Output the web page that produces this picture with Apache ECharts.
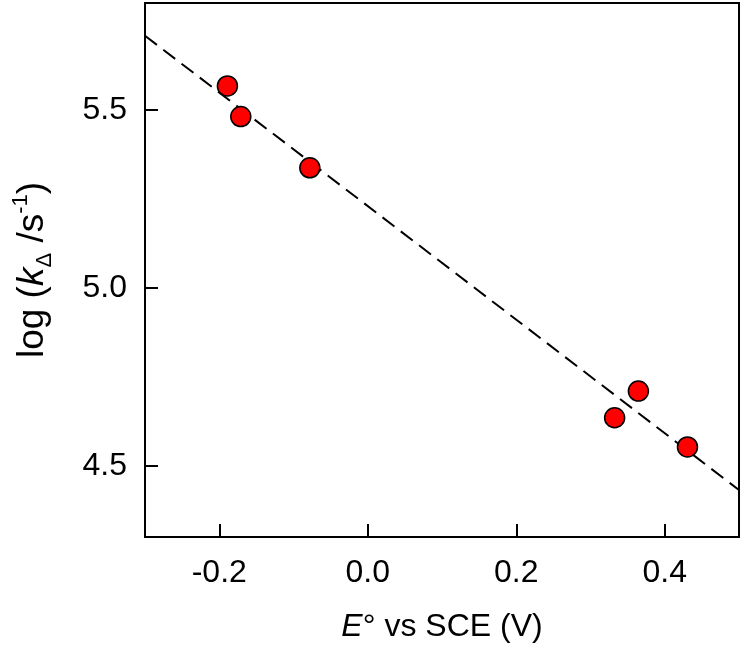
<!DOCTYPE html>
<html>
<head>
<meta charset="utf-8">
<script src="https://cdn.jsdelivr.net/npm/echarts@6/dist/echarts.min.js"></script>
<style>
html,body{margin:0;padding:0;background:#fff;}
#chart{width:746px;height:651px;}
</style>
</head>
<body>
<div id="chart"></div>
<script>
// Data
var potentialV = [-0.189, -0.171, -0.078, 0.3325, 0.3645, 0.4306];
var logK = [5.567, 5.481, 5.337, 4.635, 4.710, 4.553];
var fitX = [-0.3, 0.5];
var fitY = [5.708, 4.432];
var xTickValues = [-0.2, 0.0, 0.2, 0.4];
var yTickValues = [4.5, 5.0, 5.5];

var points = potentialV.map(function (x, i) { return [x, logK[i]]; });
var fitLine = fitX.map(function (x, i) { return [x, fitY[i]]; });

var font = '"Liberation Sans", Arial, sans-serif';
var chart = echarts.init(document.getElementById('chart'), null, {renderer: 'canvas'});
chart.setOption({
  animation: false,
  backgroundColor: '#ffffff',
  grid: {
    left: 145, right: 7, top: 3, bottom: 114,
    show: true, borderColor: '#000', borderWidth: 2, backgroundColor: 'transparent'
  },
  xAxis: {
    type: 'value', min: -0.3, max: 0.5,
    name: '{i|E}{n|° vs SCE (V)}',
    nameLocation: 'middle', nameGap: 74,
    nameTextStyle: {
      rich: {
        i: {fontFamily: font, fontSize: 32, fontStyle: 'italic', color: '#000'},
        n: {fontFamily: font, fontSize: 32, color: '#000'}
      }
    },
    splitLine: {show: false},
    axisLine: {show: true, onZero: false, lineStyle: {color: '#000', width: 2}},
    axisTick: {show: true, inside: true, length: 13, customValues: xTickValues, lineStyle: {color: '#000', width: 2}},
    axisLabel: {
      customValues: xTickValues, margin: 20,
      fontFamily: font, fontSize: 32, color: '#000',
      formatter: function (v) { return v.toFixed(1); }
    }
  },
  yAxis: {
    type: 'value', min: 4.3, max: 5.8,
    name: '{n|log (}{i|k}{sub|Δ}{n| /s}{sup|-1}{n|)}',
    nameLocation: 'middle', nameGap: 89,
    nameTextStyle: {
      rich: {
        n: {fontFamily: font, fontSize: 37, color: '#000', lineHeight: 46},
        i: {fontFamily: font, fontSize: 37, fontStyle: 'italic', color: '#000', lineHeight: 46},
        sub: {fontFamily: font, fontSize: 22, color: '#000', lineHeight: 22, verticalAlign: 'bottom'},
        sup: {fontFamily: font, fontSize: 22, color: '#000', lineHeight: 22, verticalAlign: 'top'}
      }
    },
    splitLine: {show: false},
    axisLine: {show: true, onZero: false, lineStyle: {color: '#000', width: 2}},
    axisTick: {show: true, inside: true, length: 13, customValues: yTickValues, lineStyle: {color: '#000', width: 2}},
    axisLabel: {
      customValues: yTickValues, margin: 18,
      fontFamily: font, fontSize: 32, color: '#000',
      formatter: function (v) { return v.toFixed(1); }
    }
  },
  series: [
    {
      type: 'line', data: fitLine, symbol: 'none', z: 1,
      lineStyle: {color: '#000', width: 2, type: [15, 8]}
    },
    {
      type: 'scatter', data: points, symbol: 'circle', symbolSize: 20, z: 2,
      itemStyle: {color: '#ff0000', borderColor: '#000', borderWidth: 1.5, opacity: 1}
    }
  ]
});
</script>
</body>
</html>
